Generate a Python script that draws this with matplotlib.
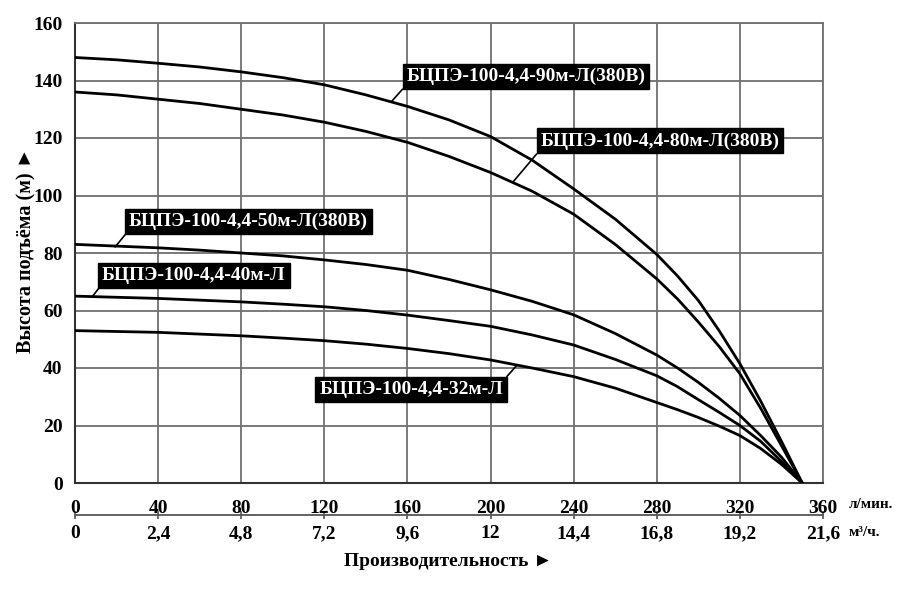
import matplotlib
matplotlib.use("Agg")
import matplotlib.pyplot as plt

# подача, л/мин
Q = [0, 20, 40, 60, 80, 100, 120, 140, 160, 180, 200, 220, 240, 260, 280, 290, 300, 310, 320, 330, 340, 350]
# напор, м
H90 = [148, 147.2, 146, 144.7, 143, 141, 138.5, 135, 131, 126.3, 120.5, 112.3, 102.3, 91.8, 79.5, 72, 63.5, 53, 41.5, 28.5, 14.5, 0]
H80 = [136, 135, 133.5, 132, 130, 128, 125.5, 122.3, 118.5, 113.6, 108, 101.5, 93.5, 83, 71, 64, 56, 47.5, 38, 26, 13, 0]
H50 = [83, 82.4, 81.8, 81, 80, 79, 77.6, 76, 74, 70.8, 67.2, 63.2, 58.5, 52, 44.5, 40, 35, 29.5, 23.5, 16.5, 9, 0]
H40 = [65, 64.6, 64.2, 63.6, 63, 62.2, 61.3, 60, 58.4, 56.5, 54.5, 51.5, 48, 43, 37.3, 33.5, 29, 24.6, 20, 14.5, 7.5, 0]
H32 = [53, 52.7, 52.4, 51.8, 51.2, 50.4, 49.5, 48.3, 46.8, 45, 42.8, 40, 37, 33, 28, 25.5, 22.8, 19.8, 16.5, 12, 6.5, 0]

NAMES = ["БЦПЭ-100-4,4-90м-Л(380В)", "БЦПЭ-100-4,4-80м-Л(380В)",
         "БЦПЭ-100-4,4-50м-Л(380В)", "БЦПЭ-100-4,4-40м-Л", "БЦПЭ-100-4,4-32м-Л"]
XT = [0, 40, 80, 120, 160, 200, 240, 280, 320, 360]
XT2 = [0, 2.4, 4.8, 7.2, 9.6, 12, 14.4, 16.8, 19.2, 21.6]
XT2_LAB = ["0", "2,4", "4,8", "7,2", "9,6", "12", "14,4", "16,8", "19,2", "21,6"]
YT = [0, 20, 40, 60, 80, 100, 120, 140, 160]

FONT = ["Liberation Serif", "DejaVu Serif"]
plt.rcParams["font.family"] = FONT
plt.rcParams["font.weight"] = "bold"

fig = plt.figure(figsize=(9.22, 6.02), dpi=100)
W, Hh = 922, 602
ax = fig.add_axes([75 / W, 1 - 483 / Hh, 748 / W, 460 / Hh])

for h in (H90, H80, H50, H40, H32):
    ax.plot(Q, h, color="black", lw=2.0, solid_joinstyle="round", zorder=3)

ax.set_xlim(0, 360)
ax.set_ylim(0, 160)
ax.set_xticks(XT)
ax.set_yticks(YT)
ax.grid(True, color="#707070", lw=1.3, zorder=1)
ax.tick_params(axis="both", length=0, labelsize=14)
ax.tick_params(axis="x", pad=12)
ax.tick_params(axis="y", pad=9)
for s in ("top", "right"):
    ax.spines[s].set_color("#707070")
    ax.spines[s].set_linewidth(1.3)
for s in ("left", "bottom"):
    ax.spines[s].set_color("#333333")
    ax.spines[s].set_linewidth(1.5)
for lab in ax.get_xticklabels() + ax.get_yticklabels():
    lab.set_fontweight("bold")

sec = ax.secondary_xaxis(-0.0696, functions=(lambda x: x * 0.06, lambda x: x / 0.06))
sec.set_xticks(XT2, XT2_LAB)
sec.tick_params(direction="inout", length=6, width=1.2, labelsize=14, pad=4, color="#555555")
sec.spines["bottom"].set_color("#555555")
sec.spines["bottom"].set_linewidth(1.3)
for lab in sec.get_xticklabels():
    lab.set_fontweight("bold")

# подписи кривых: (текст, точка на кривой, угол рамки, выравнивание, угол выноски)
labels = [
    (NAMES[0], (152.6, 132.9), (159.5, 138.5), "left", "bottom", (0, 0)),
    (NAMES[1], (210.8, 104.7), (224.0, 116.0), "left", "bottom", (0, 0)),
    (NAMES[2], (19.3, 82.1), (26.0, 88.0), "left", "bottom", (0, 0)),
    (NAMES[3], (8.2, 64.7), (13.0, 69.2), "left", "bottom", (0, 0)),
    (NAMES[4], (212.7, 41.0), (206.0, 35.5), "right", "top", (1, 1)),
]
for txt, xy, xyt, ha, va, rp in labels:
    ax.annotate(txt, xy=xy, xytext=xyt, ha=ha, va=va, color="white",
                fontsize=14, fontweight="bold", zorder=5,
                bbox=dict(boxstyle="square,pad=0.2", fc="black", ec="black"),
                arrowprops=dict(arrowstyle="-", color="black", lw=1.2, relpos=rp,
                                shrinkA=0, shrinkB=0))

fig.text(849 / W, 1 - 505 / Hh, "л/мин.", fontsize=11, fontweight="bold", va="center")
fig.text(849 / W, 1 - 532 / Hh, "м³/ч.", fontsize=11, fontweight="bold", va="center")
fig.text(448 / W, 1 - 562 / Hh, "Производительность ►", fontsize=14, fontweight="bold",
         ha="center", va="center", family=FONT + ["DejaVu Sans"])
fig.text(26 / W, 1 - 250 / Hh, "Высота подъёма (м) ►", fontsize=14.5, fontweight="bold",
         ha="center", va="center", rotation=90, family=FONT + ["DejaVu Sans"])

fig.savefig("out.png", dpi=100)
